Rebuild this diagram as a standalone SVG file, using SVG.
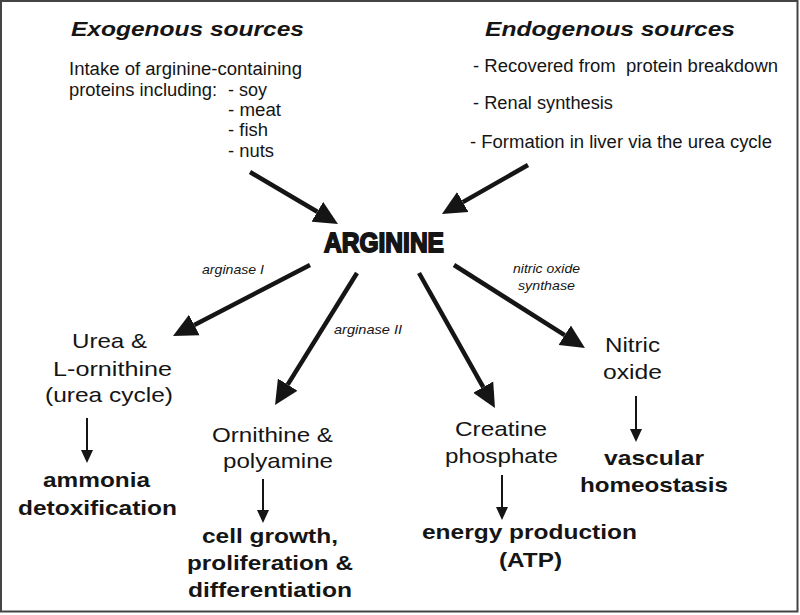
<svg xmlns="http://www.w3.org/2000/svg" width="800" height="615" viewBox="0 0 800 615">
<defs>
<style>
text{font-family:"Liberation Sans",Arial,sans-serif;fill:#151515}
.title{font-size:20px;font-weight:bold;font-style:italic}
.src{font-size:18px}
.enz{font-size:13px;font-style:italic}
.node{font-size:21px}
.out{font-size:21px;font-weight:bold}
.main{font-size:28px;font-weight:bold;stroke:#151515;stroke-width:1.8px}
.big{stroke:#151515;stroke-width:4.5;fill:none;marker-end:url(#bigHead)}
.small{stroke:#151515;stroke-width:2;fill:none;marker-end:url(#smallHead)}
</style>
<marker id="bigHead" markerUnits="userSpaceOnUse" markerWidth="26" markerHeight="24" refX="0" refY="11.5" orient="auto" viewBox="0 0 26 23">
<path d="M0,0 L24,11.5 L0,23 z" fill="#151515"/>
</marker>
<marker id="smallHead" markerUnits="userSpaceOnUse" markerWidth="14" markerHeight="13" refX="0" refY="6" orient="auto" viewBox="0 0 14 12">
<path d="M0,0 L13,6 L0,12 z" fill="#151515"/>
</marker>
</defs>
<rect x="1" y="1" width="796.5" height="610.5" fill="#ffffff" stroke="#444" stroke-width="2"/>

<g id="exogenous">
<text class="title" x="71" y="36" textLength="233" lengthAdjust="spacingAndGlyphs">Exogenous sources</text>
<text class="src" x="69" y="75" textLength="233" lengthAdjust="spacingAndGlyphs">Intake of arginine-containing</text>
<text class="src" x="69" y="96" textLength="148" lengthAdjust="spacingAndGlyphs">proteins including:</text>
<text class="src" x="228" y="96" textLength="39" lengthAdjust="spacingAndGlyphs">- soy</text>
<text class="src" x="228" y="116" textLength="53" lengthAdjust="spacingAndGlyphs">- meat</text>
<text class="src" x="228" y="136" textLength="40" lengthAdjust="spacingAndGlyphs">- fish</text>
<text class="src" x="228" y="157" textLength="46" lengthAdjust="spacingAndGlyphs">- nuts</text>
</g>

<g id="endogenous">
<text class="title" x="485" y="36" textLength="250" lengthAdjust="spacingAndGlyphs">Endogenous sources</text>
<text class="src" x="473" y="72" textLength="305" lengthAdjust="spacingAndGlyphs" xml:space="preserve">- Recovered from  protein breakdown</text>
<text class="src" x="473" y="109" textLength="140" lengthAdjust="spacingAndGlyphs">- Renal synthesis</text>
<text class="src" x="470" y="148" textLength="302" lengthAdjust="spacingAndGlyphs">- Formation in liver via the urea cycle</text>
</g>

<g id="arginine">
<text class="main" x="324" y="252" textLength="120" lengthAdjust="spacingAndGlyphs">ARGININE</text>
</g>

<g id="urea">
<text class="node" x="72" y="348" textLength="75" lengthAdjust="spacingAndGlyphs">Urea &amp;</text>
<text class="node" x="53" y="376" textLength="119" lengthAdjust="spacingAndGlyphs">L-ornithine</text>
<text class="node" x="45" y="402" textLength="128" lengthAdjust="spacingAndGlyphs">(urea cycle)</text>
</g>
<g id="ammonia">
<text class="out" x="43" y="487" textLength="107" lengthAdjust="spacingAndGlyphs">ammonia</text>
<text class="out" x="18" y="515" textLength="159" lengthAdjust="spacingAndGlyphs">detoxification</text>
</g>

<g id="ornithine">
<text class="node" x="212" y="442" textLength="121" lengthAdjust="spacingAndGlyphs">Ornithine &amp;</text>
<text class="node" x="223" y="468" textLength="110" lengthAdjust="spacingAndGlyphs">polyamine</text>
</g>
<g id="cellgrowth">
<text class="out" x="202" y="543" textLength="136" lengthAdjust="spacingAndGlyphs">cell growth,</text>
<text class="out" x="187" y="570" textLength="166" lengthAdjust="spacingAndGlyphs">proliferation &amp;</text>
<text class="out" x="188" y="597" textLength="164" lengthAdjust="spacingAndGlyphs">differentiation</text>
</g>

<g id="creatine">
<text class="node" x="455" y="436" textLength="92" lengthAdjust="spacingAndGlyphs">Creatine</text>
<text class="node" x="445" y="463" textLength="113" lengthAdjust="spacingAndGlyphs">phosphate</text>
</g>
<g id="energy">
<text class="out" x="422" y="539" textLength="215" lengthAdjust="spacingAndGlyphs">energy production</text>
<text class="out" x="499" y="567" textLength="63" lengthAdjust="spacingAndGlyphs">(ATP)</text>
</g>

<g id="nitricoxide">
<text class="node" x="605" y="352" textLength="55" lengthAdjust="spacingAndGlyphs">Nitric</text>
<text class="node" x="603" y="379" textLength="59" lengthAdjust="spacingAndGlyphs">oxide</text>
</g>
<g id="vascular">
<text class="out" x="604" y="465" textLength="100" lengthAdjust="spacingAndGlyphs">vascular</text>
<text class="out" x="580" y="492" textLength="148" lengthAdjust="spacingAndGlyphs">homeostasis</text>
</g>

<g id="connectors">
<line class="big" x1="250" y1="172" x2="317.3" y2="211.8"/>
<line class="big" x1="528" y1="165" x2="462.8" y2="202.1"/>
<line class="big" x1="310" y1="265" x2="194.3" y2="325"/>
<line class="big" x1="357" y1="273" x2="287.7" y2="384.6"/>
<line class="big" x1="419" y1="273" x2="483.2" y2="387.1"/>
<line class="big" x1="454" y1="265" x2="564.7" y2="335.2"/>
<line class="small" x1="87" y1="418" x2="87" y2="450"/>
<line class="small" x1="263" y1="479" x2="263" y2="510"/>
<line class="small" x1="502" y1="475" x2="502" y2="507"/>
<line class="small" x1="636" y1="396" x2="636" y2="429"/>
<text class="enz" x="202" y="274" textLength="62" lengthAdjust="spacingAndGlyphs">arginase I</text>
<text class="enz" x="334" y="334" textLength="68" lengthAdjust="spacingAndGlyphs">arginase II</text>
<text class="enz" x="513" y="273" textLength="67" lengthAdjust="spacingAndGlyphs">nitric oxide</text>
<text class="enz" x="518" y="290" textLength="57" lengthAdjust="spacingAndGlyphs">synthase</text>
</g>
</svg>
